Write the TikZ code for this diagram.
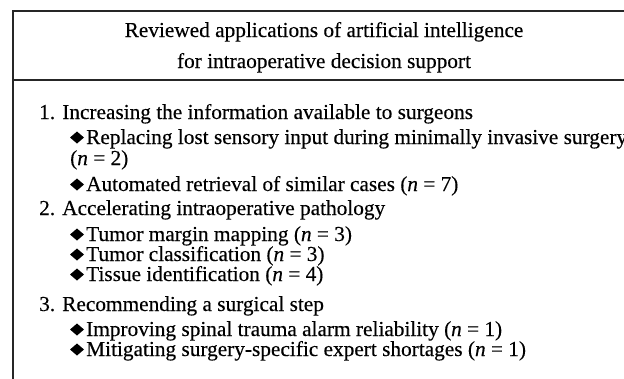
\documentclass[tikz,border=0pt]{standalone}
\usepackage{fontspec}
\setmainfont{Liberation Serif}[FakeBold=0.3]
\begin{document}
\begin{tikzpicture}[x=1pt,y=-1pt,
  frame/.style={line width=2pt, draw=black!85},
  head/.style={anchor=base, inner sep=0pt, font=\fontsize{21.3}{21.3}\selectfont},
  topic/.style={anchor=base west, inner sep=0pt, font=\fontsize{21.3}{21.3}\selectfont},
  item/.style={anchor=base west, inner sep=0pt, font=\fontsize{21.3}{21.3}\selectfont},
  bullet/.style={fill=black}
]
\useasboundingbox (0,0) rectangle (624,378);
\clip (0,0) rectangle (624,378);

% outer frame and header divider
\draw[frame] (13,11) rectangle (650,400);
\draw[frame] (13,79.5) -- (650,79.5);

% header
\node[head] (h1) at (324,37) {Reviewed applications of artificial intelligence};
\node[head] (h2) at (324,68) {for intraoperative decision support};

% topics
\node[topic] (t1) at (39,119) {1. Increasing the information available to surgeons};
\node[topic] (t2) at (39,215) {2. Accelerating intraoperative pathology};
\node[topic] (t3) at (39,311) {3. Recommending a surgical step};

% items
\node[item] (a1) at (86,144) {Replacing lost sensory input during minimally invasive surgery};
\node[item] (a1b) at (70,165) {(\textit{n} = 2)};
\node[item] (a2) at (86,191) {Automated retrieval of similar cases (\textit{n} = 7)};
\node[item] (b1) at (86,241) {Tumor margin mapping (\textit{n} = 3)};
\node[item] (b2) at (86,261) {Tumor classification (\textit{n} = 3)};
\node[item] (b3) at (86,281) {Tissue identification (\textit{n} = 4)};
\node[item] (c1) at (86,336) {Improving spinal trauma alarm reliability (\textit{n} = 1)};
\node[item] (c2) at (86,356) {Mitigating surgery-specific expert shortages (\textit{n} = 1)};

% diamond bullets in front of each item
\foreach \n in {a1,a2,b1,b2,b3,c1,c2}
  \fill[bullet] ([xshift=-9pt,yshift=6.5pt]\n.base west)
    +(-7,0) -- +(0,-6) -- +(7,0) -- +(0,6) -- cycle;
\end{tikzpicture}
\end{document}
